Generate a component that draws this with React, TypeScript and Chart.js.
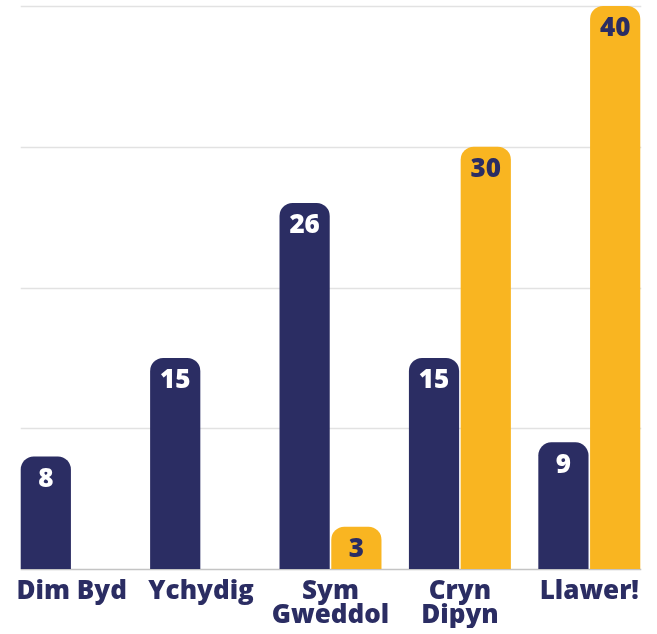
import React, { useEffect, useRef } from "react";
import { Chart, registerables } from "chart.js";

Chart.register(...registerables);

const categories: (string | string[])[] = ["Dim Byd", "Ychydig", ["Sym", "Gweddol"], ["Cryn", "Dipyn"], "Llawer!"];
const seriesNavy = [8, 15, 26, 15, 9];
const seriesYellow = [0, 0, 3, 30, 40];
const yTicks = [0, 10, 20, 30, 40];

const NAVY = "#2B2D63";
const YELLOW = "#F9B521";
const FONT = "'Open Sans', sans-serif";

const gridPlugin = {
  id: "customGrid",
  beforeDatasetsDraw(chart: any) {
    const { ctx, scales } = chart;
    const m0 = chart.getDatasetMeta(0).data;
    const m1 = chart.getDatasetMeta(1).data;
    const first = m0[0];
    const last = m1[m1.length - 1];
    const x0 = first.x - first.width / 2;
    const x1 = last.x + last.width / 2;
    ctx.save();
    yTicks.forEach((v) => {
      const y = Math.round(scales.y.getPixelForValue(v)) + 0.5;
      ctx.strokeStyle = v === 0 ? "#c4c4c4" : "#e2e2e2";
      ctx.lineWidth = 1.5;
      ctx.beginPath();
      ctx.moveTo(x0, y);
      ctx.lineTo(x1 + 1, y);
      ctx.stroke();
    });
    ctx.restore();
  },
};

const labelPlugin = {
  id: "valueLabels",
  afterDatasetsDraw(chart: any) {
    const { ctx } = chart;
    ctx.save();
    ctx.font = `800 26px ${FONT}`;
    ctx.textAlign = "center";
    ctx.textBaseline = "middle";
    chart.data.datasets.forEach((ds: any, i: number) => {
      const meta = chart.getDatasetMeta(i);
      meta.data.forEach((el: any, j: number) => {
        const v = ds.data[j];
        if (!v) return;
        ctx.fillStyle = i === 0 ? "#ffffff" : NAVY;
        ctx.fillText(String(v), el.x, el.y + 23);
      });
    });
    ctx.restore();
  },
};

export default function App() {
  const ref = useRef<HTMLCanvasElement | null>(null);
  useEffect(() => {
    document.body.style.margin = "0";
    const chart = new Chart(ref.current!, {
      type: "bar",
      data: {
        labels: categories,
        datasets: [
          { data: seriesNavy, backgroundColor: NAVY, borderRadius: 13, borderSkipped: "start" },
          { data: seriesYellow, backgroundColor: YELLOW, borderRadius: 13, borderSkipped: "start" },
        ],
      },
      options: {
        animation: false,
        responsive: false,
        maintainAspectRatio: false,
        categoryPercentage: 0.8,
        barPercentage: 0.97,
        layout: { padding: { left: 7, right: 3, top: 6, bottom: 6 } },
        plugins: { legend: { display: false }, tooltip: { enabled: false } },
        scales: {
          x: {
            grid: { display: false, drawTicks: false },
            border: { display: false },
            ticks: {
              color: NAVY,
              font: { family: FONT, size: 26, weight: "800", lineHeight: 0.923 },
              padding: 11,
              maxRotation: 0,
              autoSkip: false,
            },
            afterFit: (scale: any) => {
              scale.height = 59;
            },
          },
          y: {
            min: 0,
            max: 40,
            display: false,
            afterBuildTicks: (axis: any) => {
              axis.ticks = yTicks.map((v) => ({ value: v }));
            },
          },
        },
      },
      plugins: [gridPlugin, labelPlugin],
    });
    return () => chart.destroy();
  }, []);
  return <canvas ref={ref} width={657} height={634} style={{ display: "block" }} />;
}
